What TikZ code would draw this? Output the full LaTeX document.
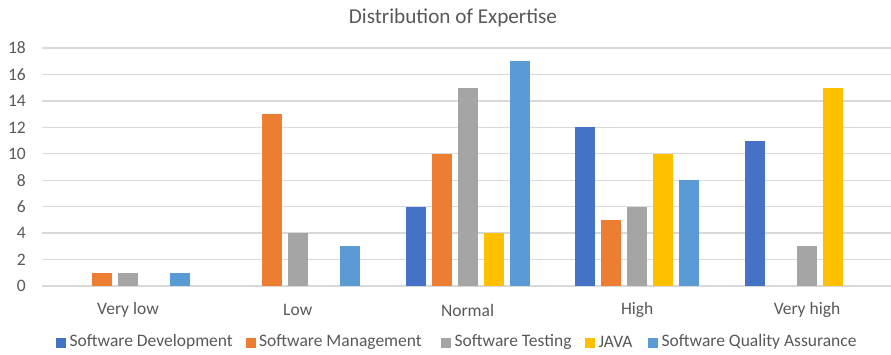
\documentclass[tikz,border=0pt]{standalone}
\usepackage{fontspec}
\setmainfont{Carlito}
\definecolor{cDev}{HTML}{4472C4}
\definecolor{cMgmt}{HTML}{ED7D31}
\definecolor{cTest}{HTML}{A5A5A5}
\definecolor{cJava}{HTML}{FFC000}
\definecolor{cQA}{HTML}{5B9BD5}
\definecolor{grid}{HTML}{D9D9D9}
\definecolor{txt}{HTML}{595959}
\begin{document}
\begin{tikzpicture}[x=1pt,y=-1pt,
  lbl/.style={text=txt,font=\fontsize{17.5}{20}\selectfont,inner sep=0pt},
  ttl/.style={text=txt,font=\fontsize{21.2}{25}\selectfont,inner sep=0pt},
  gridline/.style={draw=grid,line width=1.3pt},
  legmark/.style={minimum size=10pt,inner sep=0pt,anchor=west}]
\useasboundingbox (0,0) rectangle (891,354);
\fill[white] (0,0) rectangle (891,354);
% gridlines and y labels
\foreach \v in {0,2,...,18}{
  \pgfmathsetmacro{\yy}{286-\v*13.222}
  \draw[gridline] (42,\yy) -- (891,\yy);
  \node[lbl,anchor=east] (y\v) at (26,\yy) {\v};
}
% bars
\newcommand{\bars}[3]{%
  \foreach \val [count=\k from 0] in {#2}{
    \ifnum\val>0
      \pgfmathsetmacro{\cx}{128+169.75*#1-52+26*\k}
      \pgfmathsetmacro{\top}{286-\val*13.222}
      \pgfmathsetmacro{\col}{{"cDev","cMgmt","cTest","cJava","cQA"}[\k]}
      \fill[\col] (\cx-10,\top) rectangle (\cx+10,286);
    \fi
  }%
  \node[lbl] (cat#1) at (128+169.75*#1,310) {#3};
}
\bars{0}{0,1,1,0,1}{Very low}
\bars{1}{0,13,4,0,3}{Low}
\bars{2}{6,10,15,4,17}{Normal}
\bars{3}{12,5,6,10,8}{High}
\bars{4}{11,0,3,15,0}{Very high}
% title
\node[ttl] (title) at (453,18) {Distribution of Expertise};
% legend
\foreach \mx/\col/\name [count=\i] in {56/cDev/Software Development,245.5/cMgmt/Software Management,441/cTest/Software Testing,585/cJava/JAVA,648/cQA/Software Quality Assurance}{
  \node[legmark,fill=\col] (m\i) at (\mx,342.5) {};
  \node[lbl,anchor=west] (l\i) at (\mx+13.5,342) {\name};
}
\end{tikzpicture}
\end{document}
